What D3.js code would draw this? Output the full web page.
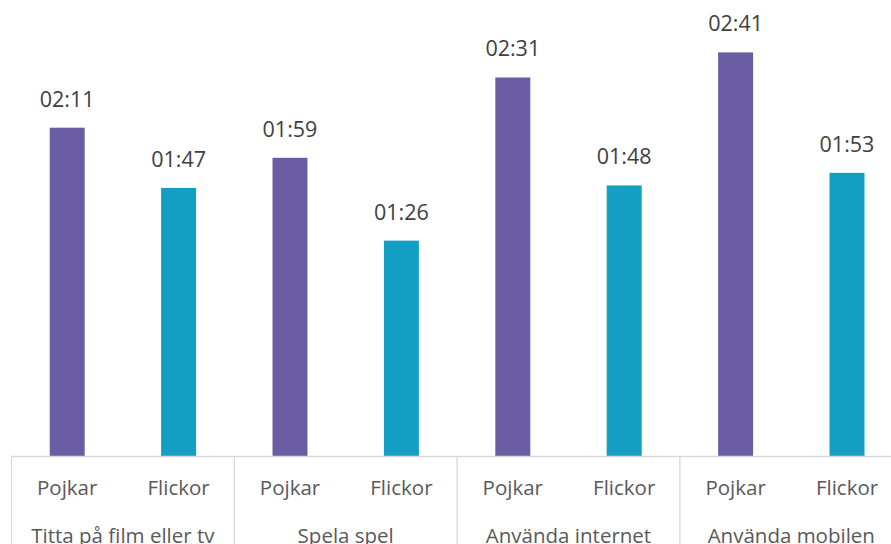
<!DOCTYPE html>
<html>
<head>
<meta charset="utf-8">
<script src="https://cdnjs.cloudflare.com/ajax/libs/d3/7.8.5/d3.min.js"></script>
<style>
  html, body { margin: 0; padding: 0; background: #fff; }
  svg { display: block; }
  text { font-family: "Open Sans", sans-serif; }
</style>
</head>
<body>
<svg id="chart" width="891" height="544"></svg>
<script>
// Data
const groups = ["Titta på film eller tv", "Spela spel", "Använda internet", "Använda mobilen"];
const subgroups = ["Pojkar", "Flickor"];
const pojkarMinutes = [131, 119, 151, 161];
const flickorMinutes = [107, 86, 108, 113];
const colors = ["#6B5DA4", "#139FC3"];

const fmt = m => String(Math.floor(m / 60)).padStart(2, "0") + ":" + String(m % 60).padStart(2, "0");

const rows = [];
groups.forEach((g, i) => {
  rows.push({ group: g, sub: "Pojkar", value: pojkarMinutes[i], si: 0 });
  rows.push({ group: g, sub: "Flickor", value: flickorMinutes[i], si: 1 });
});

const svg = d3.select("#chart");
const W = 891, H = 544;
const left = 11.5, step = 111.4;
const baseY = 456.5;
const FS = 20.5;

const x = d3.scaleBand()
  .domain(rows.map((d, i) => i))
  .range([left, left + step * rows.length])
  .paddingInner(0.686)
  .paddingOuter(0.343);

const y = d3.scaleLinear().domain([0, 180]).range([baseY, baseY - 180 * 2.51]);

// bars
svg.append("g").selectAll("rect").data(rows).join("rect")
  .attr("x", (d, i) => x(i))
  .attr("width", x.bandwidth())
  .attr("y", d => y(d.value))
  .attr("height", d => baseY - y(d.value))
  .attr("fill", d => colors[d.si]);

// value labels
svg.append("g").selectAll("text").data(rows).join("text")
  .attr("x", (d, i) => x(i) + x.bandwidth() / 2)
  .attr("y", d => y(d.value) - 21)
  .attr("text-anchor", "middle")
  .attr("font-size", 21.5)
  .attr("fill", "#404040")
  .text(d => fmt(d.value));

// axis lines
const g = svg.append("g").attr("stroke", "#d9d9d9").attr("stroke-width", 1.3);
g.append("line").attr("x1", left).attr("x2", W).attr("y1", baseY).attr("y2", baseY);
const groupX = d3.scaleBand().domain(groups).range([left, left + step * rows.length]);
groups.forEach(gr => {
  g.append("line")
    .attr("x1", groupX(gr)).attr("x2", groupX(gr))
    .attr("y1", baseY).attr("y2", H);
});

// sub labels
svg.append("g").selectAll("text").data(rows).join("text")
  .attr("x", (d, i) => x(i) + x.bandwidth() / 2)
  .attr("y", 495)
  .attr("text-anchor", "middle")
  .attr("font-size", FS)
  .attr("fill", "#595959")
  .text(d => d.sub);

// group labels
svg.append("g").selectAll("text").data(groups).join("text")
  .attr("x", d => groupX(d) + groupX.bandwidth() / 2)
  .attr("y", 543)
  .attr("text-anchor", "middle")
  .attr("font-size", FS)
  .attr("fill", "#595959")
  .text(d => d);
</script>
</body>
</html>
